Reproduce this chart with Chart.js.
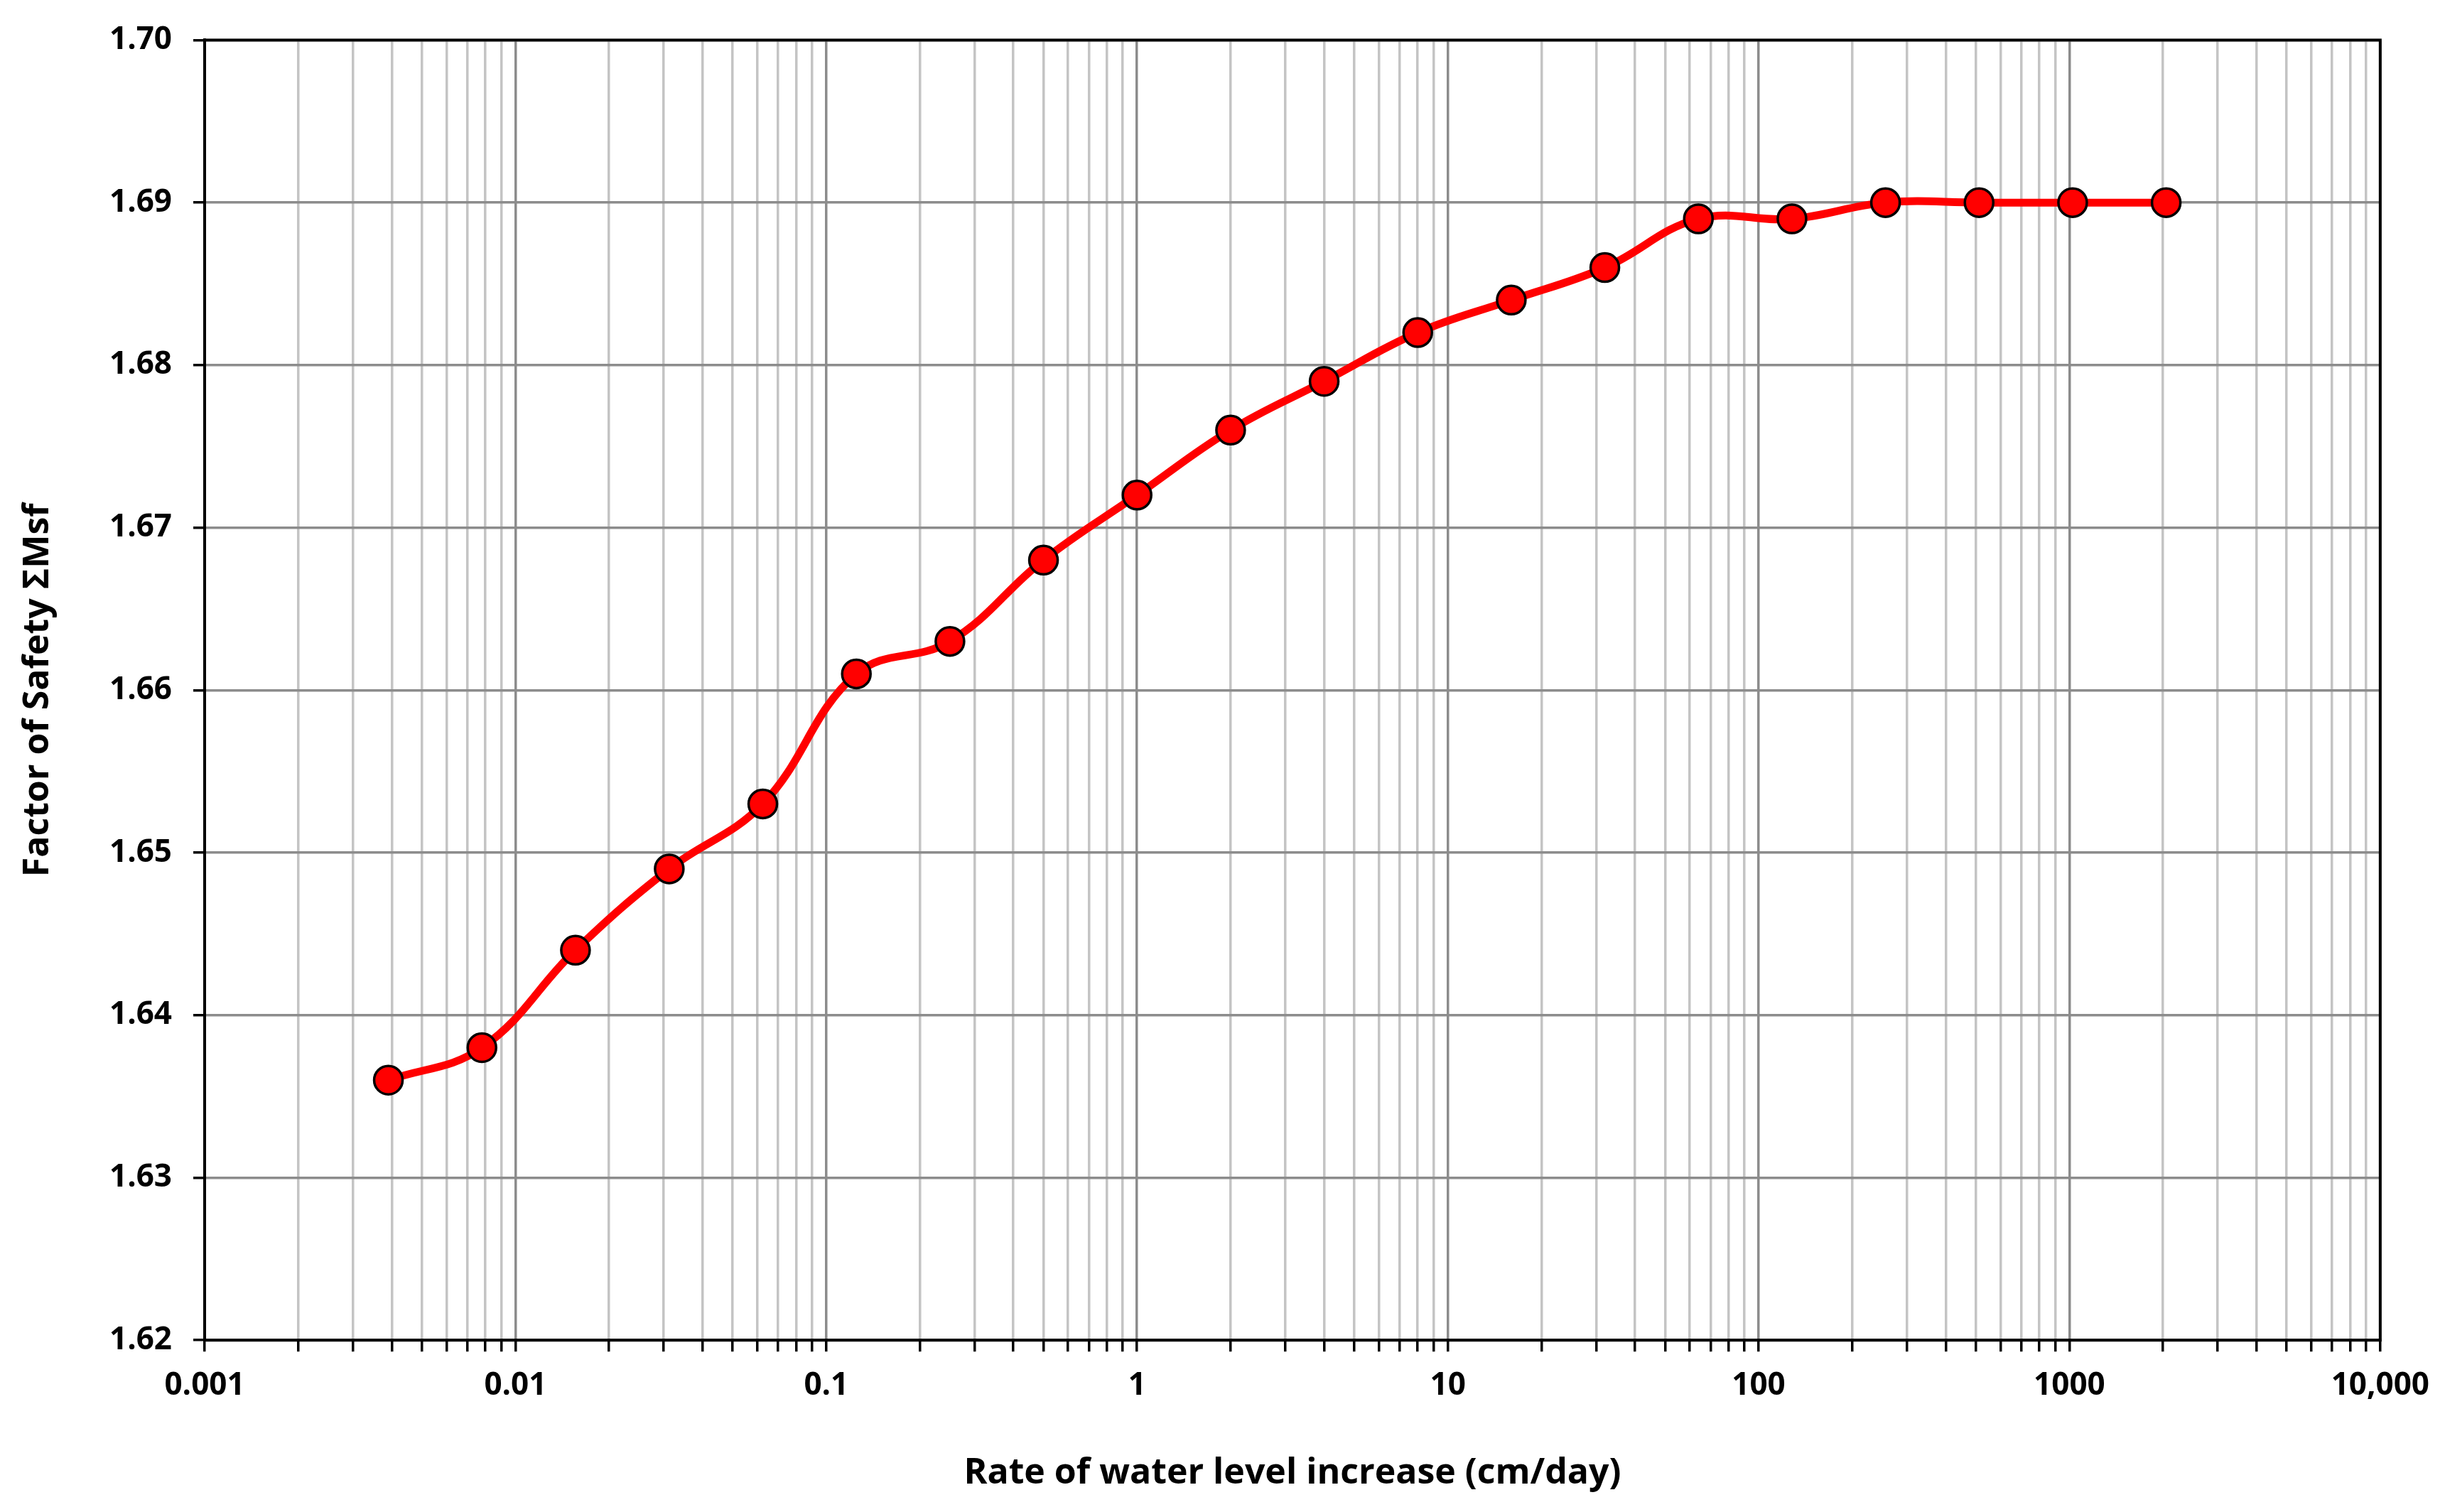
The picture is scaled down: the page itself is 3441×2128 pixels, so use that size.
<!DOCTYPE html>
<html>
<head>
<meta charset="utf-8">
<script src="https://cdn.jsdelivr.net/npm/chart.js@4/dist/chart.umd.min.js"></script>
<style>
  html, body { margin: 0; padding: 0; background: #fff; }
  #wrap { width: 3441px; height: 2128px; }
</style>
</head>
<body>
<div id="wrap"><canvas id="chart"></canvas></div>
<script>
const rates = [0.0039, 0.0078, 0.0156, 0.03125, 0.0625, 0.125, 0.25, 0.5, 1, 2, 4, 8, 16, 32, 64, 128, 256, 512, 1024, 2048];
const safety = [1.636, 1.638, 1.644, 1.649, 1.653, 1.661, 1.663, 1.668, 1.672, 1.676, 1.679, 1.682, 1.684, 1.686, 1.689, 1.689, 1.690, 1.690, 1.690, 1.690];
const decades = [0.001, 0.01, 0.1, 1, 10, 100, 1000, 10000];
const decadeLabels = ["0.001", "0.01", "0.1", "1", "10", "100", "1000", "10,000"];

// every 1..9 step in each decade, for the grid
const xTicks = [];
decades.forEach((d, i) => {
  if (i === decades.length - 1) { xTicks.push(d); return; }
  for (let k = 1; k <= 9; k++) xTicks.push(+(d * k).toPrecision(3));
});
const isDecade = v => decades.some(d => Math.abs(v - d) / d < 1e-6);

const font = { family: "'Open Sans', 'Liberation Sans', sans-serif", weight: 'bold' };

new Chart(document.getElementById("chart"), {
  type: 'line',
  data: {
    datasets: [{
      data: rates.map((x, i) => ({ x, y: safety[i] })),
      borderColor: '#ff0000',
      borderWidth: 11,
      tension: 0.4,
      pointRadius: 20,
      pointBackgroundColor: '#ff0000',
      pointBorderColor: '#000',
      pointBorderWidth: 3.5
    }]
  },
  options: {
    responsive: true,
    maintainAspectRatio: false,
    animation: false,
    layout: { padding: { top: 35, right: 60, bottom: 20, left: 20 } },
    plugins: { legend: { display: false }, tooltip: { enabled: false } },
    scales: {
      x: {
        type: 'logarithmic',
        min: 0.001, max: 10000,
        afterBuildTicks: s => { s.ticks = xTicks.map(v => ({ value: v, major: isDecade(v) })); },
        ticks: {
          autoSkip: false, maxRotation: 0, color: '#000',
          font: { ...font, size: 44 }, padding: 22,
          callback: v => { const i = decades.findIndex(d => Math.abs(v - d) / d < 1e-6); return i >= 0 ? decadeLabels[i] : ''; }
        },
        grid: {
          color: c => isDecade(c.tick.value) ? '#8c8c8c' : '#c4c4c4',
          lineWidth: 3.5, drawTicks: true, tickLength: 16, tickColor: '#000'
        },
        border: { color: '#000', width: 4 },
        title: { display: true, text: 'Rate of water level increase (cm/day)', color: '#000', font: { ...font, size: 50 }, padding: { top: 45 } }
      },
      y: {
        min: 1.62, max: 1.70,
        ticks: {
          stepSize: 0.01, color: '#000', font: { ...font, size: 44 }, padding: 30,
          callback: v => v.toFixed(2)
        },
        grid: { color: '#8c8c8c', lineWidth: 3.5, tickLength: 16, tickColor: '#000' },
        border: { color: '#000', width: 4 },
        title: { display: true, text: 'Factor of Safety ΣMsf', color: '#000', font: { ...font, size: 50 }, padding: { bottom: 40 } }
      }
    }
  },
  plugins: [{
    id: 'frame',
    afterDraw(c) {
      const a = c.chartArea, g = c.ctx;
      g.save(); g.strokeStyle = '#000'; g.lineWidth = 4;
      g.strokeRect(a.left, a.top, a.right - a.left, a.bottom - a.top);
      g.restore();
    }
  }]
});
</script>
</body>
</html>
